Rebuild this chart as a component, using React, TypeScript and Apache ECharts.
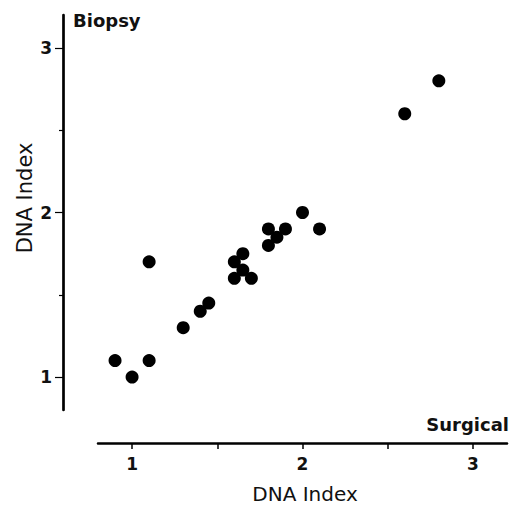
import React, { useEffect, useRef } from "react";
import * as echarts from "echarts";

const surgical: number[] = [0.9, 1.0, 1.1, 1.1, 1.3, 1.4, 1.45, 1.6, 1.7, 1.6, 1.65, 1.65, 1.8, 1.9, 1.8, 1.85, 2.0, 2.1, 2.6, 2.8];
const biopsy: number[] = [1.1, 1.0, 1.1, 1.7, 1.3, 1.4, 1.45, 1.6, 1.6, 1.7, 1.75, 1.65, 1.9, 1.9, 1.8, 1.85, 2.0, 1.9, 2.6, 2.8];
const majorTicks: number[] = [1, 2, 3];
const xTicks: number[] = [1, 1.5, 2, 2.5, 3];
const yMinorTicks: number[] = [1.5, 2.5];
const axisTitle = "DNA Index";
const xCorner = "Surgical";
const yCorner = "Biopsy";

export default function App() {
  const ref = useRef<HTMLDivElement>(null);
  useEffect(() => {
    if (!ref.current) return;
    const chart = echarts.init(ref.current, undefined, { renderer: "svg" });
    const data = surgical.map((x, i) => [x, biopsy[i]]);
    const labelFont = { fontFamily: "DejaVu Sans", fontWeight: "bold" as const, fontSize: 17, color: "#111" };
    chart.setOption({
      animation: false,
      backgroundColor: "#fff",
      grid: { left: 98, right: 2, top: 15, bottom: 96 },
      xAxis: {
        type: "value",
        min: 0.8,
        max: 3.2,
        offset: 33,
        axisLine: { show: true, lineStyle: { color: "#000", width: 2.5 } },
        axisTick: { show: true, customValues: xTicks, length: 6, lineStyle: { color: "#000", width: 1.5 } },
        axisLabel: { customValues: majorTicks, margin: 12, ...labelFont },
        splitLine: { show: false },
      },
      yAxis: [
        {
          type: "value",
          min: 0.8,
          max: 3.2,
          offset: 35,
          position: "left",
          axisLine: { show: true, lineStyle: { color: "#000", width: 2.7 } },
          axisTick: { show: true, customValues: majorTicks, length: 8, lineStyle: { color: "#000", width: 1.2 } },
          axisLabel: { customValues: majorTicks, margin: 11, ...labelFont },
          splitLine: { show: false },
        },
        {
          type: "value",
          min: 0.8,
          max: 3.2,
          offset: 35,
          position: "left",
          axisLine: { show: false },
          axisTick: { show: true, customValues: yMinorTicks, length: 4, lineStyle: { color: "#000", width: 1.2 } },
          axisLabel: { show: false },
          splitLine: { show: false },
        },
      ],
      graphic: [
        {
          type: "text",
          x: 305,
          y: 494,
          style: { text: axisTitle, fontFamily: "DejaVu Sans", fontSize: 20, fill: "#111", align: "center", verticalAlign: "middle" },
        },
        {
          type: "text",
          x: 25,
          y: 198,
          rotation: Math.PI / 2,
          style: { text: axisTitle, fontFamily: "DejaVu Sans", fontSize: 21, fill: "#111", align: "center", verticalAlign: "middle" },
        },
        {
          type: "text",
          x: 73,
          y: 20,
          style: { text: yCorner, fontFamily: "DejaVu Sans", fontWeight: "bold", fontSize: 18, fill: "#111", align: "left", verticalAlign: "middle" },
        },
        {
          type: "text",
          x: 509,
          y: 424,
          style: { text: xCorner, fontFamily: "DejaVu Sans", fontWeight: "bold", fontSize: 18, fill: "#111", align: "right", verticalAlign: "middle" },
        },
      ],
      series: [
        {
          type: "scatter",
          xAxisIndex: 0,
          yAxisIndex: 0,
          data,
          symbol: "circle",
          symbolSize: 13,
          itemStyle: { color: "#000", opacity: 1 },
        },
      ],
    });
    return () => chart.dispose();
  }, []);
  return <div ref={ref} style={{ position: "fixed", left: 0, top: 0, width: 509, height: 506 }} />;
}
